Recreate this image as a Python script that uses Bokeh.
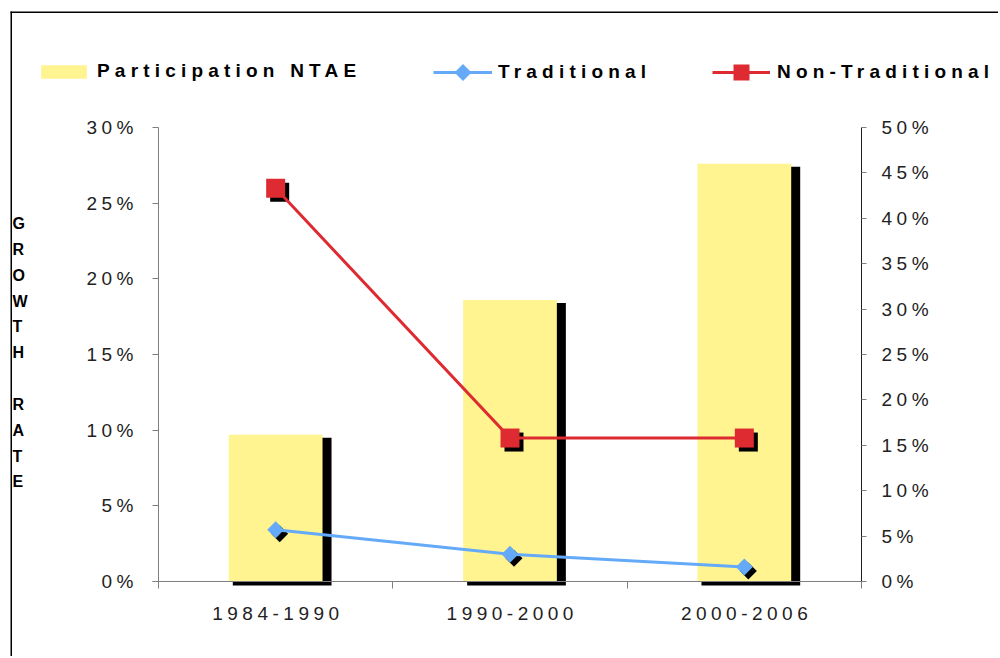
import math
import json
from bokeh.plotting import figure
from bokeh.models import (Range1d, LinearAxis, FixedTicker, NumeralTickFormatter,
                          Legend, LegendItem, Label, BoxAnnotation)
from bokeh.embed import file_html
from bokeh.resources import INLINE

# ---------------- data ----------------
categories = ["1984-1990", "1990-2000", "2000-2006"]
participation_ntae = [0.097, 0.186, 0.276]      # left axis (bars)
traditional = [0.057, 0.030, 0.016]             # right axis (line)
non_traditional = [0.433, 0.158, 0.158]         # right axis (line)
left_ticks = [0.0, 0.05, 0.10, 0.15, 0.20, 0.25, 0.30]
right_ticks = [0.0, 0.05, 0.10, 0.15, 0.20, 0.25, 0.30, 0.35, 0.40, 0.45, 0.50]

# ---------------- layout constants (canvas pixels) ----------------
W, H = 998, 656
PL, PR, PT, PB = 158, 861, 127, 581          # plot area
FONT = "Liberation Sans"
YELLOW = "#FFF48F"
RED = "#DE2A31"
BLUE = "#64AAF8"
GREY = "#7f7f7f"

n = len(categories)
xs = list(range(n))
xa, xb = -0.5, n - 0.5
xpx = (xb - xa) / (PR - PL)
ypx_l = left_ticks[-1] / (PB - PT)
ypx_r = right_ticks[-1] / (PB - PT)

x0 = xa - PL * xpx
yl0 = -(H - PB) * ypx_l
yr0 = -(H - PB) * ypx_r

p = figure(width=W, height=H, output_backend="svg", toolbar_location=None,
           x_range=Range1d(x0, x0 + W * xpx), y_range=Range1d(yl0, yl0 + H * ypx_l),
           min_border=0, x_axis_type=None, y_axis_type=None)
p.extra_y_ranges = {"right": Range1d(yr0, yr0 + H * ypx_r)}
p.grid.visible = False
p.outline_line_color = None
p.background_fill_color = "white"
p.border_fill_color = "white"

# ---------------- axes (fixed inside the full-canvas frame) ----------------
xaxis = LinearAxis(fixed_location=0, bounds=(xa - 6 * xpx, xb),
                   ticker=FixedTicker(ticks=xs, minor_ticks=[i - 0.5 for i in range(n + 1)]),
                   major_label_overrides={i: c for i, c in enumerate(categories)})
xaxis.major_tick_out = 0
xaxis.major_tick_in = 0
xaxis.minor_tick_out = 7
xaxis.minor_tick_in = 0
xaxis.minor_tick_line_color = GREY
xaxis.axis_line_color = GREY
xaxis.major_label_standoff = 18
p.add_layout(xaxis, "below")

laxis = LinearAxis(fixed_location=xa, bounds=(0, left_ticks[-1]),
                   ticker=FixedTicker(ticks=left_ticks), formatter=NumeralTickFormatter(format="0%"))
laxis.axis_line_color = GREY
laxis.major_tick_line_color = GREY
laxis.major_tick_out = 6
laxis.major_tick_in = 0
laxis.minor_tick_line_color = None
laxis.major_label_standoff = 19
p.add_layout(laxis, "left")

raxis = LinearAxis(fixed_location=xb, y_range_name="right", bounds=(0, right_ticks[-1]),
                   ticker=FixedTicker(ticks=right_ticks), formatter=NumeralTickFormatter(format="0%"))
raxis.axis_line_color = "#202020"
raxis.major_tick_line_color = GREY
raxis.major_tick_out = 5
raxis.major_tick_in = 0
raxis.minor_tick_line_color = None
raxis.major_label_standoff = 15
p.add_layout(raxis, "right")

for ax in (xaxis, laxis, raxis):
    ax.major_label_text_font = FONT
    ax.major_label_text_font_size = "19px"
    ax.major_label_text_color = "#222222"

# ---------------- bars with shadow ----------------
bw = 0.40
p.quad(left=[x - bw / 2 + 4 * xpx for x in xs], right=[x + bw / 2 + 9 * xpx for x in xs],
       top=[v - 3 * ypx_l for v in participation_ntae], bottom=[-4 * ypx_l] * n,
       fill_color="black", line_color=None)
bars = p.vbar(x=xs, width=bw, top=participation_ntae, bottom=0,
              fill_color=YELLOW, line_color=None)

# ---------------- lines with marker shadows ----------------
p.scatter([x + 4 * xpx for x in xs], [v - 4 * ypx_r for v in non_traditional], y_range_name="right",
          marker="square", size=19, fill_color="black", line_color=None)
p.scatter([x + 4 * xpx for x in xs], [v - 4 * ypx_r for v in traditional], y_range_name="right",
          marker="square", size=12, angle=math.pi / 4, fill_color="black", line_color=None)

nt_line = p.line(xs, non_traditional, y_range_name="right", line_color=RED, line_width=3)
tr_line = p.line(xs, traditional, y_range_name="right", line_color=BLUE, line_width=3)
nt_mark = p.scatter(xs, non_traditional, y_range_name="right", marker="square", size=19,
                    fill_color=RED, line_color=None)
tr_mark = p.scatter(xs, traditional, y_range_name="right", marker="square", size=12,
                    angle=math.pi / 4, fill_color=BLUE, line_color=None)

# ---------------- legends ----------------
ROW_Y = 71.5   # vertical centre of legend row (canvas px from top)

def make_legend(label, renderers, x_left, gw, gh, standoff, dy=0.0):
    lg = Legend(items=[LegendItem(label=label, renderers=renderers)],
                location=(x_left, H - ROW_Y - gh / 2 - dy),
                orientation="horizontal", glyph_width=gw, glyph_height=gh,
                label_standoff=standoff, padding=0, margin=0, spacing=0,
                border_line_color=None, background_fill_alpha=0,
                label_height=gh, label_text_font=FONT, label_text_font_size="19px",
                label_text_font_style="bold", label_text_color="black")
    p.add_layout(lg)

make_legend("Participation NTAE", [bars], 35, 57, 17, 5, dy=2.0)
make_legend("Traditional", [tr_line], 433, 59, 40, 6)
make_legend("Non-Traditional", [nt_line, nt_mark], 712, 58, 40, 7)

# diamond key of the "Traditional" legend entry (legend keys ignore marker angle)
key_x, key_y = 433 + 59 / 2, ROW_Y + 0.5
p.scatter([x0 + key_x * xpx], [yl0 + (H - key_y) * ypx_l], marker="square", size=12,
          angle=math.pi / 4, fill_color=BLUE, line_color=None, level="overlay")

# ---------------- outer border (top & left) ----------------
p.add_layout(BoxAnnotation(left=10, right=11.5, top=H - 11, bottom=-20,
                           left_units="screen", right_units="screen", top_units="screen",
                           bottom_units="screen", fill_color="black", fill_alpha=1,
                           line_color=None))
p.add_layout(BoxAnnotation(left=10, right=W + 20, top=H - 11, bottom=H - 12.5,
                           left_units="screen", right_units="screen", top_units="screen",
                           bottom_units="screen", fill_color="black", fill_alpha=1,
                           line_color=None))

# ---------------- vertical axis title ----------------
p.add_layout(Label(x=12, y=H - 214.5, x_units="screen", y_units="screen",
                   text="G\nR\nO\nW\nT\nH\n\nR\nA\nT\nE", text_align="left",
                   text_baseline="top", text_font=FONT, text_font_size="16px",
                   text_font_style="bold", text_color="black", text_line_height=1.52))

html = file_html(p, INLINE)

# wide letter-spacing of the original (Excel-style) text; re-align centred / right-aligned labels
spacing_js = """
<script>
(function(){
  var S_BOLD = 5.2, S_NORM = 4.5;
  var CENTER = %s;
  var LEFT_LIMIT = %d;
  function fix(root, depth){
    var els = root.querySelectorAll('*');
    for (var i = 0; i < els.length; i++){
      var el = els[i];
      if (el.shadowRoot) fix(el.shadowRoot, depth + 1);
      if (el.getAttribute && el.getAttribute('data-ls') === '1') continue;
      var tg = (el.tagName || '').toLowerCase();
      if (tg === 'text') {
        var t = el.textContent || '';
        if (t.length < 2) continue;
        var bold = /bold|[6-9]00/.test(el.getAttribute('font-weight') || '');
        var s = bold ? S_BOLD : S_NORM;
        el.setAttribute('letter-spacing', s + 'px');
        el.style.letterSpacing = s + 'px';
        var gaps = t.length - 1, shift = 0;
        if (CENTER.indexOf(t) >= 0) shift = gaps * s / 2;
        else if (/%%$/.test(t) && el.getBoundingClientRect().left < LEFT_LIMIT) shift = gaps * s;
        if (shift) {
          var x = parseFloat(el.getAttribute('x') || '0');
          el.setAttribute('x', String(x - shift));
        }
        el.setAttribute('data-ls', '1');
      } else if (depth >= 1 && tg !== 'style' && tg !== 'script' && tg !== 'tspan' && el.style) {
        var own = '';
        for (var c = el.firstChild; c; c = c.nextSibling) if (c.nodeType === 3) own += c.nodeValue;
        if (own.trim().length > 1) {
          el.style.letterSpacing = S_BOLD + 'px';
          el.setAttribute('data-ls', '1');
        }
      }
    }
  }
  function run(){ try { fix(document, 0); } catch(e) {} }
  setInterval(run, 40);
})();
</script>
""" % (json.dumps(categories), (PL + PR) // 2)
html = html.replace("</body>", spacing_js + "</body>")
open("out.html", "w").write(html)
